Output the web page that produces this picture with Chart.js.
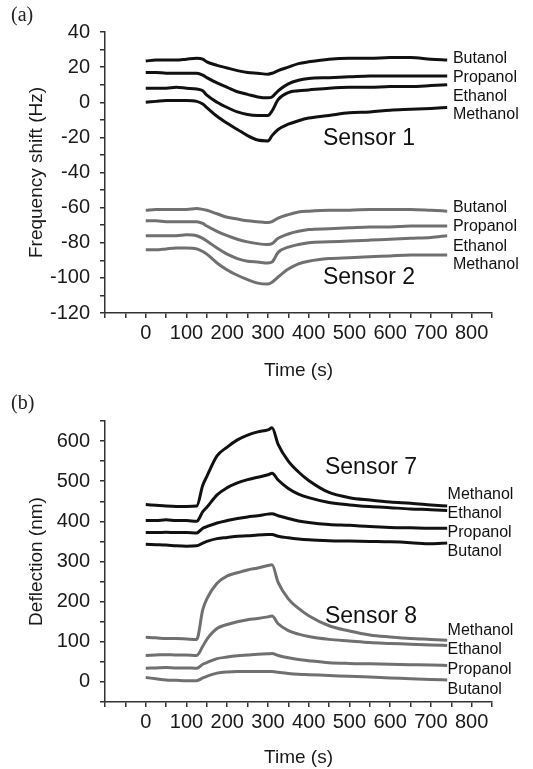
<!DOCTYPE html>
<html>
<head>
<meta charset="utf-8">
<script src="https://cdn.jsdelivr.net/npm/chart.js@4.4.1/dist/chart.umd.min.js"></script>
<style>
  html, body { margin: 0; padding: 0; background: #fff; }
  #page { position: relative; width: 533px; height: 769px; overflow: hidden; }
  canvas { position: absolute; left: 0; }
  .tag { position: absolute; left: 11px; font: 20px "Liberation Serif", serif; color: #222; line-height: 23px; }
</style>
</head>
<body>
<div id="page">
  <canvas id="chartA" width="533" height="385" style="top:0"></canvas>
  <canvas id="chartB" width="533" height="384" style="top:385px"></canvas>
  <div class="tag" style="top:3px">(a)</div>
  <div class="tag" style="top:391px">(b)</div>
</div>
<script>
// time axis shared by all traces (s)
const times = [0, 25, 50, 75, 100, 125, 140, 150, 175, 200, 225, 250, 275, 300, 310, 325, 350, 375, 400, 450, 500, 550, 600, 650, 700, 740];

// (a) frequency shift, Hz
const s1Butanol  = [23.5, 24, 24, 24, 24.5, 25, 24.5, 23, 21, 19.5, 18, 17, 16.5, 16, 16.5, 18, 20, 22, 23, 24.5, 25, 25, 25.5, 25.5, 24.5, 24];
const s1Propanol = [17, 17, 16.5, 16.5, 16.5, 16.5, 15.5, 14, 11, 8.5, 6, 4.5, 3, 2.5, 3, 6.5, 10.5, 12.5, 13.5, 14, 14.5, 15, 15, 15, 15, 15];
const s1Ethanol  = [8, 8, 8, 8.5, 8, 7.5, 6.5, 4, 0, -3, -5.5, -7, -7.5, -7.5, -5, 1.5, 5.5, 6.5, 7, 8, 8.5, 8.5, 9, 9, 9.5, 10];
const s1Methanol = [0, 0.5, 1, 1, 1, 0.5, -1, -3, -8, -12, -15.5, -19, -21.5, -22, -19, -15.5, -12.5, -10.5, -9, -7.5, -6, -5.5, -4.5, -4, -3.5, -3];
const s2Butanol  = [-61.5, -61, -61, -61, -61, -60.5, -61, -61.5, -63.5, -65.5, -66.5, -67.5, -68, -68.5, -68, -66, -64, -62.5, -62, -61.5, -61.5, -61, -61, -61, -61.5, -62];
const s2Propanol = [-67.5, -67.5, -68, -68, -68, -68, -69, -70.5, -73.5, -76, -78, -79.5, -80.5, -81, -80.5, -77.5, -75, -73.5, -72.5, -72, -71.5, -71, -71, -70.5, -70.5, -70.5];
const s2Ethanol  = [-76, -76, -76, -76, -75.5, -76, -77.5, -79, -83, -86.5, -89, -90.5, -91, -91.5, -91, -85.5, -82.5, -81, -80, -79.5, -79, -78.5, -78, -77.5, -77, -76];
const s2Methanol = [-84, -84, -83.5, -83, -83, -83.5, -85, -86.5, -91.5, -95.5, -98.5, -101, -103, -103.5, -102.5, -99.5, -95, -92, -90.5, -89, -88.5, -88, -87.5, -87, -87, -87];

// (b) deflection, nm
const s7Methanol = [442, 440, 438, 437, 437, 438, 490, 512, 563, 585, 603, 615, 623, 628, 633, 592, 550, 523, 502, 472, 459, 453, 448, 445, 441, 438];
const s7Ethanol  = [402, 402, 404, 402, 402, 400, 424, 435, 466, 484, 496, 504, 510, 516, 520, 503, 482, 468, 459, 447, 441, 437, 434, 431, 429, 427];
const s7Propanol = [372, 372, 373, 372, 372, 371, 383, 387, 396, 402, 407, 411, 414, 418, 419, 414, 407, 401, 397, 392, 390, 387, 385, 384, 383, 383];
const s7Butanol  = [343, 342, 341, 339, 338, 339, 346, 350, 357, 360, 363, 364, 366, 367, 367, 363, 359, 356, 354, 352, 351, 350, 349, 347, 344, 346];
const s8Methanol = [111, 110, 108, 108, 107, 106, 180, 207, 246, 264, 272, 279, 284, 290, 292, 248, 207, 183, 165, 140, 127, 117, 112, 108, 106, 104];
const s8Ethanol  = [66, 67, 68, 67, 67, 66, 89, 106, 133, 143, 150, 155, 158, 162, 164, 145, 128, 119, 113, 106, 102, 98, 96, 94, 92, 91];
const s8Propanol = [34, 35, 36, 35, 35, 34, 44, 48, 58, 62, 65, 67, 69, 70, 71, 66, 60, 56, 53, 48, 46, 45, 44, 43, 42, 41];
const s8Butanol  = [11, 8, 5, 4, 3, 3, 10, 14, 22, 25, 26, 26, 26, 26, 26, 24, 21, 19, 18, 16, 14, 12, 10, 8, 6, 5];

const xTicksLabelled = [0, 100, 200, 300, 400, 500, 600, 700, 800];

const BLACK = '#111111';
const GREY = '#707070';
const AXIS = '#333333';
const FONT = '"Liberation Sans", Arial, sans-serif';

const toPoints = (values) => times.map((t, i) => ({ x: t, y: values[i] }));

const trace = (label, values, color) => ({
  label,
  data: toPoints(values),
  borderColor: color,
  borderWidth: 3,
  pointRadius: 0,
  cubicInterpolationMode: 'monotone',
  fill: false,
});

// draws the per-trace names and sensor captions, anchored in data units
const textPlugin = {
  id: 'panelText',
  afterDatasetsDraw(chart, args, opts) {
    const { ctx, scales } = chart;
    ctx.save();
    ctx.fillStyle = '#111';
    ctx.textBaseline = 'middle';
    ctx.textAlign = 'left';
    (opts.items || []).forEach((item) => {
      ctx.font = item.size + 'px ' + FONT;
      ctx.fillText(item.text, scales.x.getPixelForValue(item.x), scales.y.getPixelForValue(item.y));
    });
    ctx.restore();
  },
};

const axisGrid = { display: true, drawOnChartArea: false, drawTicks: true, tickLength: 5, color: AXIS, lineWidth: 1.5 };

const buildOptions = ({ yMin, yMax, yStep, yLabelEvery, yTitle, padTop, xHeight, xTitlePad, items }) => ({
  responsive: false,
  animation: false,
  devicePixelRatio: 1,
  layout: { padding: { top: padTop, right: 41, left: 0, bottom: 0 } },
  plugins: {
    legend: { display: false },
    tooltip: { enabled: false },
    panelText: { items },
  },
  scales: {
    x: {
      type: 'linear',
      min: -100,
      max: 850,
      grid: axisGrid,
      border: { display: true, color: AXIS, width: 1.5 },
      ticks: {
        stepSize: 50,
        autoSkip: false,
        maxRotation: 0,
        padding: 3,
        color: '#1a1a1a',
        font: { family: FONT, size: 20 },
        callback: (v) => (xTicksLabelled.includes(v) ? String(v) : ''),
      },
      title: { display: true, text: 'Time (s)', color: '#1a1a1a', font: { family: FONT, size: 19 }, padding: { top: 0, bottom: xTitlePad } },
      afterFit: (scale) => { scale.height = xHeight; },
    },
    y: {
      type: 'linear',
      min: yMin,
      max: yMax,
      grid: axisGrid,
      border: { display: true, color: AXIS, width: 1.5 },
      ticks: {
        stepSize: yStep,
        autoSkip: false,
        padding: 10,
        color: '#1a1a1a',
        font: { family: FONT, size: 20 },
        callback: (v) => (v % yLabelEvery === 0 && v >= yMin && v <= yMax ? String(v) : ''),
      },
      title: { display: true, text: yTitle, color: '#1a1a1a', font: { family: FONT, size: 19 }, padding: { top: 25, bottom: 0 } },
      afterFit: (scale) => { scale.width = 105; },
    },
  },
});

new Chart(document.getElementById('chartA'), {
  type: 'line',
  data: {
    datasets: [
      trace('S1 Butanol', s1Butanol, BLACK),
      trace('S1 Propanol', s1Propanol, BLACK),
      trace('S1 Ethanol', s1Ethanol, BLACK),
      trace('S1 Methanol', s1Methanol, BLACK),
      trace('S2 Butanol', s2Butanol, GREY),
      trace('S2 Propanol', s2Propanol, GREY),
      trace('S2 Ethanol', s2Ethanol, GREY),
      trace('S2 Methanol', s2Methanol, GREY),
    ],
  },
  options: buildOptions({
    yMin: -120, yMax: 40, yStep: 10, yLabelEvery: 20,
    yTitle: 'Frequency shift (Hz)', padTop: 32, xHeight: 72, xTitlePad: 3,
    items: [
      { text: 'Butanol', x: 754, y: 25, size: 16 },
      { text: 'Propanol', x: 754, y: 14.2, size: 16 },
      { text: 'Ethanol', x: 754, y: 3.4, size: 16 },
      { text: 'Methanol', x: 754, y: -6.8, size: 16 },
      { text: 'Butanol', x: 754, y: -60.2, size: 16 },
      { text: 'Propanol', x: 754, y: -71, size: 16 },
      { text: 'Ethanol', x: 754, y: -82, size: 16 },
      { text: 'Methanol', x: 754, y: -92.4, size: 16 },
      { text: 'Sensor 1', x: 435, y: -21, size: 23 },
      { text: 'Sensor 2', x: 435, y: -99.6, size: 23 },
    ],
  }),
  plugins: [textPlugin],
});

new Chart(document.getElementById('chartB'), {
  type: 'line',
  data: {
    datasets: [
      trace('S7 Methanol', s7Methanol, BLACK),
      trace('S7 Ethanol', s7Ethanol, BLACK),
      trace('S7 Propanol', s7Propanol, BLACK),
      trace('S7 Butanol', s7Butanol, BLACK),
      trace('S8 Methanol', s8Methanol, GREY),
      trace('S8 Ethanol', s8Ethanol, GREY),
      trace('S8 Propanol', s8Propanol, GREY),
      trace('S8 Butanol', s8Butanol, GREY),
    ],
  },
  options: buildOptions({
    yMin: -50, yMax: 650, yStep: 50, yLabelEvery: 100,
    yTitle: 'Deflection (nm)', padTop: 36, xHeight: 67, xTitlePad: 0,
    items: [
      { text: 'Methanol', x: 741, y: 467.5, size: 16 },
      { text: 'Ethanol', x: 741, y: 420, size: 16 },
      { text: 'Propanol', x: 741, y: 372, size: 16 },
      { text: 'Butanol', x: 741, y: 325, size: 16 },
      { text: 'Methanol', x: 741, y: 129, size: 16 },
      { text: 'Ethanol', x: 741, y: 81, size: 16 },
      { text: 'Propanol', x: 741, y: 31.5, size: 16 },
      { text: 'Butanol', x: 741, y: -18, size: 16 },
      { text: 'Sensor 7', x: 440, y: 535, size: 23 },
      { text: 'Sensor 8', x: 440, y: 163, size: 23 },
    ],
  }),
  plugins: [textPlugin],
});
</script>
</body>
</html>
